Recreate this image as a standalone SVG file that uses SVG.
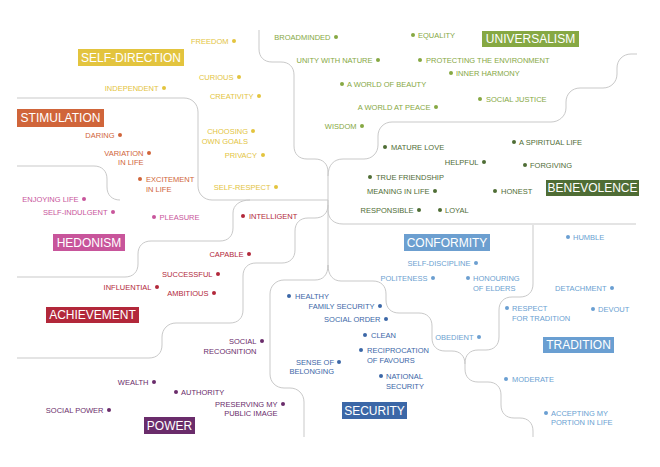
<svg xmlns="http://www.w3.org/2000/svg" width="660" height="467" viewBox="0 0 660 467">
<style>
text{font-family:"Liberation Sans",Arial,sans-serif;font-size:7.5px}
.h{font-size:12px;fill:#fff;text-anchor:middle}
.e{text-anchor:end}
.ln{fill:none;stroke:#c9c9c9;stroke-width:1}
.sd{fill:#e3c43e}.st{fill:#d0653a}.he{fill:#c8559b}.ac{fill:#b2283a}.po{fill:#6a2c6b}
.se{fill:#3b67a7}.co{fill:#6c9fd0}.tr{fill:#6a9fd2}.be{fill:#4f6d35}.un{fill:#86a843}
</style>
<rect width="660" height="467" fill="#fff"/>
<g id="connectors" class="ln">
<path d="M259,30 V49 C259,57 264,62 272,62 H281 C289,62 294,67 294,75 V146 C294,154 299,159 307,159 H315 C323,159 328,164 328,172 V270"/>
<path d="M17,98 H184 C192,98 198,104 198,112 V186 C198,194 204,200 212,200 H328"/>
<path d="M17,166 H94 C102,166 107,171 107,179 V187 C107,195 112,200 120,200"/>
<path d="M250,200 C240,200 233,205 233,213 V228 C233,236 228,241 220,241 H151 C143,241 138,246 138,254 V264 C138,272 133,277 125,277 H17"/>
<path d="M328,205 C328,213 323,218 315,218 H308 C300,218 295,223 295,231 V250 C295,258 290,263 282,263 H256 C248,263 243,268 243,276 V310 C243,318 238,323 230,323 H176 C168,323 162,329 162,337 V345 C162,353 157,358 149,358 H17"/>
<path d="M328,265 C328,275 323,280 315,280 H284 C276,280 270,286 270,294 V374 C270,382 276,388 284,388 H290 C298,388 304,394 304,402 V437"/>
<path d="M328,265 C328,275 333,281 341,281 H373 C381,281 386,286 386,294 V300 C386,308 391,313 399,313 H419 C427,313 432,318 432,326 V338 C432,346 437,351 445,351 H452 C460,351 465,356 465,364"/>
<path d="M533,225 V284 C533,292 528,297 520,297 H512 C504,297 499,302 499,310 V337 C499,345 494,350 486,350 H478 C470,350 465,355 465,363 V369 C465,377 470,382 478,382 H488 C496,382 501,387 501,395 V405 C501,413 506,418 514,418 H520 C528,418 533,423 533,431 V437"/>
<path d="M328,200 V210 C328,219 334,224 343,224 H636"/>
<path d="M328,176 C328,165 334,159 343,159 H364 C372,159 378,153 378,145 V136 C378,128 384,122 392,122 H551 C559,122 566,116 566,108 V102 C566,94 572,88 580,88 H603 C611,88 617,82 617,74 V68 C617,60 623,54 631,54 H637"/>
</g>
<g id="self-direction" class="sd">
<rect x="78" y="49" width="106" height="17"/>
<text class="h" x="131" y="61.8">SELF-DIRECTION</text>
<circle cx="234" cy="41" r="2"/><text class="e" x="228.5" y="43.7">FREEDOM</text>
<circle cx="239" cy="77" r="2"/><text class="e" x="233.5" y="79.7">CURIOUS</text>
<circle cx="164" cy="88" r="2"/><text class="e" x="158.5" y="90.7">INDEPENDENT</text>
<circle cx="259" cy="96" r="2"/><text class="e" x="253.5" y="98.7">CREATIVITY</text>
<circle cx="253" cy="131" r="2"/><text class="e" x="248" y="133.7">CHOOSING</text><text class="e" x="248" y="143.7">OWN GOALS</text>
<circle cx="263" cy="155" r="2"/><text class="e" x="257" y="157.7">PRIVACY</text>
<circle cx="276" cy="187" r="2"/><text class="e" x="270.5" y="189.7">SELF-RESPECT</text>
</g>
<g id="stimulation" class="st">
<rect x="17" y="109" width="87" height="18"/>
<text class="h" x="60.5" y="122.3">STIMULATION</text>
<circle cx="120" cy="135" r="2"/><text class="e" x="114.5" y="137.7">DARING</text>
<circle cx="149" cy="153" r="2"/><text class="e" x="143.5" y="155.7">VARIATION</text><text class="e" x="143.5" y="164.7">IN LIFE</text>
<circle cx="140" cy="179" r="2"/><text x="146" y="181.7">EXCITEMENT</text><text x="146" y="191.7">IN LIFE</text>
</g>
<g id="hedonism" class="he">
<rect x="53" y="234" width="72" height="17"/>
<text class="h" x="89" y="246.8">HEDONISM</text>
<circle cx="84" cy="199" r="2"/><text class="e" x="78.5" y="201.7">ENJOYING LIFE</text>
<circle cx="113" cy="212" r="2"/><text class="e" x="107.5" y="214.7">SELF-INDULGENT</text>
<circle cx="154" cy="217" r="2"/><text x="159.5" y="219.7">PLEASURE</text>
</g>
<g id="achievement" class="ac">
<rect x="46" y="307" width="93" height="16"/>
<text class="h" x="92.5" y="319.3">ACHIEVEMENT</text>
<circle cx="243" cy="216" r="2"/><text x="249" y="218.7">INTELLIGENT</text>
<circle cx="249" cy="254" r="2"/><text class="e" x="243.5" y="256.7">CAPABLE</text>
<circle cx="218" cy="274" r="2"/><text class="e" x="212.5" y="276.7">SUCCESSFUL</text>
<circle cx="157" cy="287" r="2"/><text class="e" x="151.5" y="289.7">INFLUENTIAL</text>
<circle cx="214" cy="293" r="2"/><text class="e" x="208.5" y="295.7">AMBITIOUS</text>
</g>
<g id="power" class="po">
<rect x="144" y="417" width="51" height="17"/>
<text class="h" x="169.5" y="429.8">POWER</text>
<circle cx="262" cy="341" r="2"/><text class="e" x="256.5" y="343.7">SOCIAL</text><text class="e" x="256.5" y="353.7">RECOGNITION</text>
<circle cx="154" cy="382" r="2"/><text class="e" x="148.5" y="384.7">WEALTH</text>
<circle cx="176" cy="392" r="2"/><text x="181" y="394.7">AUTHORITY</text>
<circle cx="109" cy="410" r="2"/><text class="e" x="103.5" y="412.7">SOCIAL POWER</text>
<circle cx="283" cy="404" r="2"/><text class="e" x="277.5" y="406.7">PRESERVING MY</text><text class="e" x="277.5" y="415.7">PUBLIC IMAGE</text>
</g>
<g id="security" class="se">
<rect x="342" y="402" width="65" height="17"/>
<text class="h" x="374.5" y="414.8">SECURITY</text>
<circle cx="289" cy="296" r="2"/><text x="295" y="298.7">HEALTHY</text>
<circle cx="380" cy="306" r="2"/><text class="e" x="374.5" y="308.7">FAMILY SECURITY</text>
<circle cx="386" cy="319" r="2"/><text class="e" x="380.5" y="321.7">SOCIAL ORDER</text>
<circle cx="365" cy="335" r="2"/><text x="371" y="337.7">CLEAN</text>
<circle cx="361" cy="350" r="2"/><text x="367" y="352.7">RECIPROCATION</text><text x="367" y="362.7">OF FAVOURS</text>
<circle cx="339" cy="362" r="2"/><text class="e" x="334" y="364.7">SENSE OF</text><text class="e" x="334" y="373.7">BELONGING</text>
<circle cx="381" cy="376" r="2"/><text x="386" y="378.7">NATIONAL</text><text x="386" y="388.7">SECURITY</text>
</g>
<g id="conformity" class="co">
<rect x="404" y="234" width="86" height="17"/>
<text class="h" x="447" y="246.8">CONFORMITY</text>
<circle cx="476" cy="263" r="2"/><text class="e" x="470.5" y="265.7">SELF-DISCIPLINE</text>
<circle cx="433" cy="278" r="2"/><text class="e" x="427.5" y="280.7">POLITENESS</text>
<circle cx="468" cy="278" r="2"/><text x="473" y="280.7">HONOURING</text><text x="473" y="290.7">OF ELDERS</text>
<circle cx="479" cy="337" r="2"/><text class="e" x="473.5" y="339.7">OBEDIENT</text>
</g>
<g id="tradition" class="tr">
<rect x="543" y="337" width="71" height="16"/>
<text class="h" x="578.5" y="349.3">TRADITION</text>
<circle cx="568" cy="237" r="2"/><text x="573" y="239.7">HUMBLE</text>
<circle cx="612" cy="288" r="2"/><text class="e" x="606.5" y="290.7">DETACHMENT</text>
<circle cx="507" cy="308" r="2"/><text x="512" y="310.7">RESPECT</text><text x="512" y="320.7">FOR TRADITION</text>
<circle cx="593" cy="309" r="2"/><text x="598" y="311.7">DEVOUT</text>
<circle cx="506" cy="379" r="2"/><text x="512" y="381.7">MODERATE</text>
<circle cx="546" cy="413" r="2"/><text x="551" y="415.7">ACCEPTING MY</text><text x="551" y="424.7">PORTION IN LIFE</text>
</g>
<g id="benevolence" class="be">
<rect x="546" y="180" width="93" height="16"/>
<text class="h" x="592.5" y="192.3">BENEVOLENCE</text>
<circle cx="385" cy="147" r="2"/><text x="391" y="149.7">MATURE LOVE</text>
<circle cx="514" cy="142" r="2"/><text x="519" y="144.7">A SPIRITUAL LIFE</text>
<circle cx="484" cy="162" r="2"/><text class="e" x="478.5" y="164.7">HELPFUL</text>
<circle cx="525" cy="165" r="2"/><text x="530" y="167.7">FORGIVING</text>
<circle cx="370" cy="177" r="2"/><text x="376" y="179.7">TRUE FRIENDSHIP</text>
<circle cx="435" cy="191" r="2"/><text class="e" x="429.5" y="193.7">MEANING IN LIFE</text>
<circle cx="495" cy="191" r="2"/><text x="501" y="193.7">HONEST</text>
<circle cx="419" cy="210" r="2"/><text class="e" x="413.5" y="212.7">RESPONSIBLE</text>
<circle cx="440" cy="210" r="2"/><text x="445" y="212.7">LOYAL</text>
</g>
<g id="universalism" class="un">
<rect x="482" y="31" width="97" height="16"/>
<text class="h" x="530.5" y="43.3">UNIVERSALISM</text>
<circle cx="336" cy="37" r="2"/><text class="e" x="330.5" y="39.7">BROADMINDED</text>
<circle cx="413" cy="35" r="2"/><text x="418" y="37.7">EQUALITY</text>
<circle cx="378" cy="60" r="2"/><text class="e" x="372.5" y="62.7">UNITY WITH NATURE</text>
<circle cx="420" cy="60" r="2"/><text x="426" y="62.7">PROTECTING THE ENVIRONMENT</text>
<circle cx="451" cy="73" r="2"/><text x="456" y="75.7">INNER HARMONY</text>
<circle cx="342" cy="84" r="2"/><text x="347" y="86.7">A WORLD OF BEAUTY</text>
<circle cx="480" cy="99" r="2"/><text x="486" y="101.7">SOCIAL JUSTICE</text>
<circle cx="436" cy="107" r="2"/><text class="e" x="430.5" y="109.7">A WORLD AT PEACE</text>
<circle cx="362" cy="126" r="2"/><text class="e" x="356.5" y="128.7">WISDOM</text>
</g>
</svg>
